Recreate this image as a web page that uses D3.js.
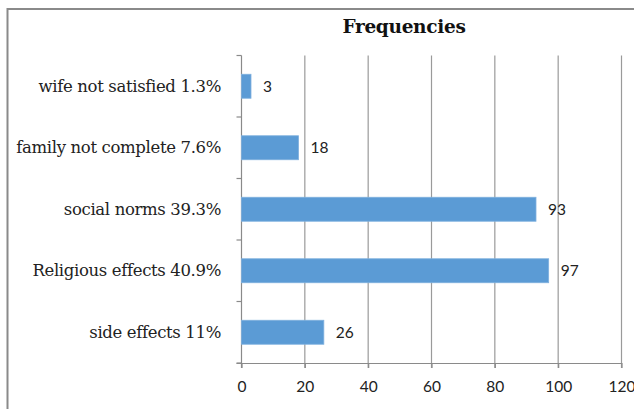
<!DOCTYPE html>
<html>
<head>
<meta charset="utf-8">
<script src="https://cdn.jsdelivr.net/npm/d3@7"></script>
<style>
  html, body { margin: 0; padding: 0; background: #fff; }
  svg { display: block; }
</style>
</head>
<body>
<svg id="chart" width="634" height="409"></svg>
<script>
const categories = [
  "wife not satisfied 1.3%",
  "family not complete 7.6%",
  "social norms 39.3%",
  "Religious effects 40.9%",
  "side effects 11%"
];
const frequencies = [3, 18, 93, 97, 26];
const xTicks = [0, 20, 40, 60, 80, 100, 120];
const title = "Frequencies";

const svg = d3.select("#chart");
const plotLeft = 241.5, plotRight = 621.5, plotTop = 55.5, plotBottom = 363;

// outer frame
svg.append("rect").attr("x", 7.5).attr("y", 9).attr("width", 700).attr("height", 500)
  .attr("fill", "none").attr("stroke", "#8a8a8a").attr("stroke-width", 2);

const x = d3.scaleLinear().domain([0, 120]).range([plotLeft, plotRight]);
const y = d3.scaleBand().domain(categories).range([plotTop, plotBottom]).paddingInner(0.61).paddingOuter(0.305);
const yTick = d3.scaleLinear().domain([0, categories.length]).range([plotTop, plotBottom]);

// gridlines
svg.append("g").selectAll("line").data(xTicks.slice(1)).join("line")
  .attr("x1", d => x(d)).attr("x2", d => x(d))
  .attr("y1", plotTop).attr("y2", plotBottom + 5)
  .attr("stroke", "#9a9a9a").attr("stroke-width", 1.2);

// x axis
const xAxis = d3.axisBottom(x).tickValues(xTicks).tickSize(5).tickPadding(13);
const gx = svg.append("g").attr("transform", `translate(0,${plotBottom})`).call(xAxis);
gx.select(".domain").attr("d", `M${plotLeft - 5},0.5H${plotRight}`).attr("stroke", "#8a8a8a").attr("stroke-width", 1.2);
gx.selectAll(".tick line").attr("stroke", "#8a8a8a").attr("stroke-width", 1.2);
gx.selectAll(".tick text").attr("font-family", "Lato, 'Open Sans', sans-serif")
  .attr("font-size", 15.5).attr("fill", "#222");

// y axis line and ticks at category boundaries
svg.append("line").attr("x1", plotLeft).attr("x2", plotLeft).attr("y1", plotTop).attr("y2", plotBottom + 5)
  .attr("stroke", "#8a8a8a").attr("stroke-width", 1.2);
svg.append("g").selectAll("line").data(d3.range(0, categories.length + 1)).join("line")
  .attr("x1", plotLeft - 5).attr("x2", plotLeft)
  .attr("y1", d => yTick(d)).attr("y2", d => yTick(d))
  .attr("stroke", "#8a8a8a").attr("stroke-width", 1.2);

// bars
svg.append("g").selectAll("rect").data(frequencies).join("rect")
  .attr("x", x(0))
  .attr("y", (d, i) => y(categories[i]))
  .attr("width", d => x(d) - x(0))
  .attr("height", y.bandwidth())
  .attr("fill", "#5b9bd5")
  .attr("stroke", "#7fb0de").attr("stroke-width", 0.8);

// value labels
svg.append("g").selectAll("text").data(frequencies).join("text")
  .attr("x", d => x(d) + 12)
  .attr("y", (d, i) => y(categories[i]) + y.bandwidth() / 2)
  .attr("dy", "0.36em")
  .attr("font-family", "Lato, 'Open Sans', sans-serif")
  .attr("font-size", 15.5).attr("fill", "#222")
  .text(d => d);

// category labels
svg.append("g").selectAll("text").data(categories).join("text")
  .attr("x", 221)
  .attr("y", d => y(d) + y.bandwidth() / 2)
  .attr("dy", "0.33em")
  .attr("text-anchor", "end")
  .attr("font-family", "'DejaVu Serif', serif")
  .attr("font-size", 16.5).attr("letter-spacing", -0.35).attr("fill", "#222")
  .text(d => d);

// title
svg.append("text").attr("x", 404).attr("y", 33).attr("text-anchor", "middle")
  .attr("font-family", "'DejaVu Serif', serif")
  .attr("font-weight", "bold").attr("font-size", 18.5).attr("letter-spacing", -0.3).attr("fill", "#111")
  .text(title);
</script>
</body>
</html>
